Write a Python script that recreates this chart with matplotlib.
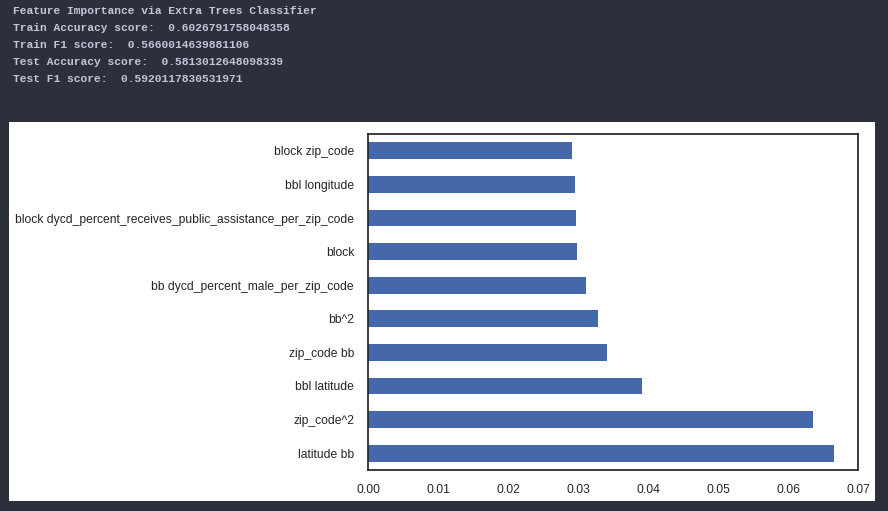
import matplotlib
matplotlib.use('Agg')
import matplotlib.pyplot as plt
from matplotlib.patches import Rectangle

# top 10 features, largest first (drawn bottom to top)
features = ['latitude bb', 'zip_code^2', 'bbl latitude', 'zip_code bb', 'bb^2',
            'bb dycd_percent_male_per_zip_code', 'block',
            'block dycd_percent_receives_public_assistance_per_zip_code',
            'bbl longitude', 'block zip_code']
importances = [0.0666, 0.0636, 0.0391, 0.0341, 0.0329,
               0.0312, 0.0298, 0.0297, 0.0295, 0.0292]

header_lines = [
    'Feature Importance via Extra Trees Classifier',
    'Train Accuracy score:  0.6026791758048358',
    'Train F1 score:  0.5660014639881106',
    'Test Accuracy score:  0.5813012648098339',
    'Test F1 score:  0.5920117830531971',
]

W, H = 888, 511
fig = plt.figure(figsize=(W / 100, H / 100), dpi=100)
fig.patch.set_facecolor('#2b303b')

# white output panel of the notebook cell
fig.patches.append(Rectangle((9 / W, 1 - 501 / H), (875 - 9) / W, (501 - 122) / H,
                             transform=fig.transFigure, facecolor='white',
                             edgecolor='none', zorder=-10))

for i, line in enumerate(header_lines):
    fig.text(13 / W, 1 - (11 + 17 * i) / H, line, family='Liberation Mono',
             fontsize=8.1, color='#c3c6da', va='center', ha='left',
             fontweight='bold')

ax = fig.add_axes([368 / W, 1 - 470 / H, (858 - 368) / W, (470 - 134) / H])
ax.barh(range(len(features)), importances, height=0.5, color='#4468a9')
ax.set_yticks(range(len(features)))
ax.set_yticklabels(features)
ax.set_xlim(0, 0.07)
ax.set_ylim(-0.5, len(features) - 0.5)
ax.set_xticks([0.0, 0.01, 0.02, 0.03, 0.04, 0.05, 0.06, 0.07])
ax.set_xticklabels(['%.2f' % v for v in ax.get_xticks()])

for lab in ax.get_xticklabels() + ax.get_yticklabels():
    lab.set_family('Liberation Sans')
    lab.set_fontsize(8.7)
    lab.set_color('#262626')
ax.tick_params(length=0, pad=10)
for s in ax.spines.values():
    s.set_color('#262626')
    s.set_linewidth(1.25)

fig.savefig('out.png', dpi=100, facecolor=fig.get_facecolor())
